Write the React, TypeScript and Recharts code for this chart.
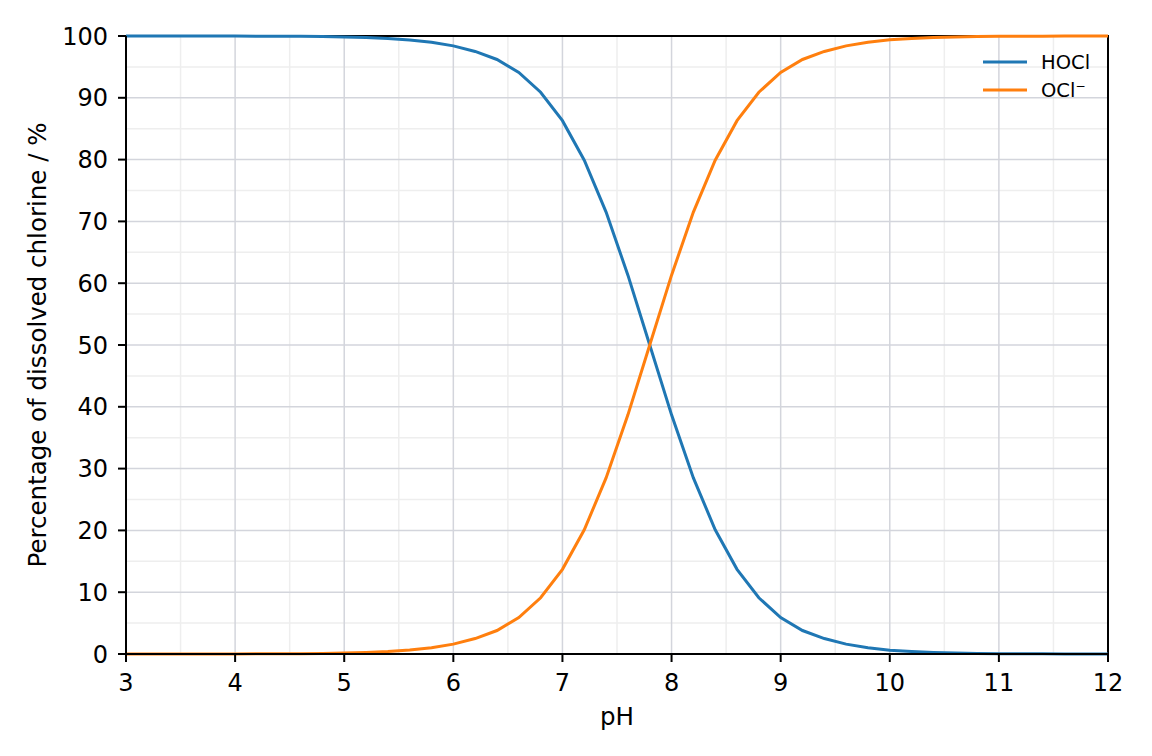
import { CartesianGrid, Line, LineChart, ReferenceArea, XAxis, YAxis } from "recharts";

const PH = [
  3.0, 3.2, 3.4, 3.6, 3.8, 4.0, 4.2, 4.4, 4.6, 4.8, 5.0, 5.2, 5.4, 5.6, 5.8, 6.0,
  6.2, 6.4, 6.6, 6.8, 7.0, 7.2, 7.4, 7.6, 7.8, 8.0, 8.2, 8.4, 8.6, 8.8, 9.0, 9.2,
  9.4, 9.6, 9.8, 10.0, 10.2, 10.4, 10.6, 10.8, 11.0, 11.2, 11.4, 11.6, 11.8, 12.0,
];
const HOCL = [
  100.0, 100.0, 100.0, 100.0, 99.99, 99.98, 99.97, 99.96, 99.94, 99.9, 99.84, 99.75,
  99.6, 99.37, 99.0, 98.4, 97.5, 96.2, 94.1, 90.9, 86.3, 79.9, 71.5, 61.3, 50.0, 38.7,
  28.5, 20.1, 13.7, 9.1, 5.9, 3.8, 2.5, 1.6, 1.0, 0.6, 0.4, 0.25, 0.16, 0.1, 0.06,
  0.04, 0.03, 0.02, 0.01, 0.0,
];
const OCL = [
  0.0, 0.0, 0.0, 0.0, 0.01, 0.02, 0.03, 0.04, 0.06, 0.1, 0.16, 0.25, 0.4, 0.63, 1.0,
  1.6, 2.5, 3.8, 5.9, 9.1, 13.7, 20.1, 28.5, 38.7, 50.0, 61.3, 71.5, 79.9, 86.3, 90.9,
  94.1, 96.2, 97.5, 98.4, 99.0, 99.4, 99.6, 99.75, 99.84, 99.9, 99.94, 99.96, 99.97,
  99.98, 99.99, 100.0,
];
const X_TICKS = [3, 4, 5, 6, 7, 8, 9, 10, 11, 12];
const X_MINOR = [3.5, 4.5, 5.5, 6.5, 7.5, 8.5, 9.5, 10.5, 11.5];
const Y_TICKS = [0, 10, 20, 30, 40, 50, 60, 70, 80, 90, 100];
const Y_MINOR = [5, 15, 25, 35, 45, 55, 65, 75, 85, 95];

const BLUE = "#1f77b4";
const ORANGE = "#ff7f0e";
const FONT = "DejaVu Sans";

const data = PH.map((ph, i) => ({ ph, hocl: HOCL[i], ocl: OCL[i] }));

const tickStyle = { fontSize: 24, fill: "#000", fontFamily: FONT };
const labelStyle = { fontSize: 24.5, fill: "#000", fontFamily: FONT };

export default function App() {
  return (
    <div style={{ position: "absolute", left: 0, top: 0, width: 1152, height: 756, background: "#fff" }}>
      <LineChart width={1152} height={756} data={data} margin={{ top: 36, right: 44, bottom: 22, left: 0 }}>
        <CartesianGrid stroke="#eeeeee" strokeWidth={1.5} horizontalValues={Y_MINOR} verticalValues={X_MINOR} />
        <CartesianGrid stroke="#d3d5dc" strokeWidth={1.5} horizontalValues={Y_TICKS} verticalValues={X_TICKS} />
        <XAxis
          dataKey="ph"
          type="number"
          domain={[3, 12]}
          ticks={X_TICKS}
          height={80}
          tick={tickStyle}
          tickSize={8}
          tickMargin={12}
          stroke="#000"
          strokeWidth={2}
          label={{ value: "pH", position: "insideBottom", offset: 9, style: labelStyle }}
        />
        <XAxis
          xAxisId="minor"
          dataKey="ph"
          type="number"
          domain={[3, 12]}
          ticks={X_MINOR}
          height={0}
          tickFormatter={() => ""}
          tickSize={5}
          axisLine={false}
          stroke="#000"
          strokeWidth={1.5}
        />
        <YAxis
          type="number"
          domain={[0, 100]}
          ticks={Y_TICKS}
          width={126}
          tick={tickStyle}
          tickSize={8}
          tickMargin={10}
          stroke="#000"
          strokeWidth={2}
          label={{
            value: "Percentage of dissolved chlorine / %",
            angle: -90,
            position: "insideLeft",
            offset: 37,
            style: { ...labelStyle, textAnchor: "middle" },
          }}
        />
        <YAxis
          yAxisId="minor"
          type="number"
          domain={[0, 100]}
          ticks={Y_MINOR}
          width={0}
          tickFormatter={() => ""}
          tickSize={5}
          axisLine={false}
          stroke="#000"
          strokeWidth={1.5}
        />
        <Line dataKey="hocl" stroke={BLUE} strokeWidth={3} dot={false} isAnimationActive={false} />
        <Line dataKey="ocl" stroke={ORANGE} strokeWidth={3} dot={false} isAnimationActive={false} />
        <ReferenceArea x1={3} x2={12} y1={0} y2={100} fill="none" fillOpacity={0} stroke="#000" strokeWidth={2} />
        <g>
          <line x1={983} x2={1027} y1={62} y2={62} stroke={BLUE} strokeWidth={3} />
          <text x={1041} y={62} dominantBaseline="central" fontSize={19.5} fontFamily={FONT} fill="#000">HOCl</text>
          <line x1={983} x2={1027} y1={90} y2={90} stroke={ORANGE} strokeWidth={3} />
          <text x={1041} y={90} dominantBaseline="central" fontSize={19.5} fontFamily={FONT} fill="#000">OCl⁻</text>
        </g>
      </LineChart>
    </div>
  );
}
